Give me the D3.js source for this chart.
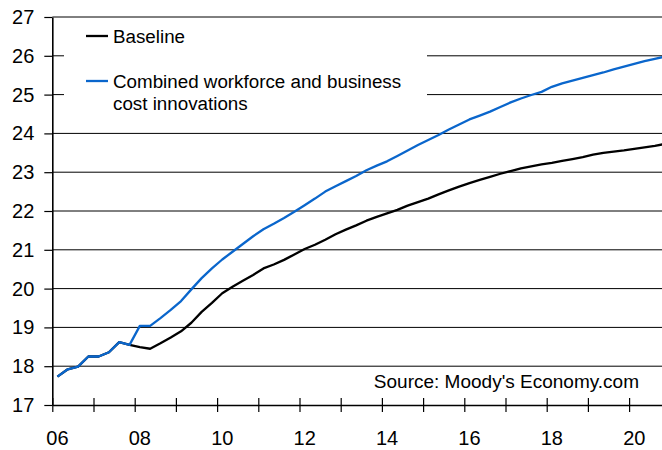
<!DOCTYPE html>
<html>
<head>
<meta charset="utf-8">
<script src="https://cdn.jsdelivr.net/npm/d3@7"></script>
<style>
  html, body { margin: 0; padding: 0; background: #fff; }
  svg { display: block; font-family: "Liberation Sans", Arial, sans-serif; }
</style>
</head>
<body>
<svg id="chart" width="662" height="450"></svg>
<script>
// Quarterly series, 2006Q1 through 2020Q4
const years = [2006, 2007, 2008, 2009, 2010, 2011, 2012, 2013, 2014, 2015, 2016, 2017, 2018, 2019, 2020];
const quarters = years.flatMap(y => [1, 2, 3, 4].map(q => y + (q - 0.5) / 4));

const baseline = [
  17.73, 17.92, 17.99, 18.25, 18.25, 18.36, 18.62, 18.55,
  18.49, 18.45, 18.59, 18.74, 18.90, 19.12, 19.40, 19.63,
  19.88, 20.05, 20.20, 20.35, 20.52, 20.62, 20.74, 20.88,
  21.02, 21.13, 21.26, 21.40, 21.52, 21.63, 21.75, 21.85,
  21.94, 22.03, 22.14, 22.23, 22.32, 22.43, 22.53, 22.63,
  22.72, 22.80, 22.88, 22.96, 23.03, 23.10, 23.15, 23.20,
  23.24, 23.29, 23.34, 23.39, 23.45, 23.50, 23.53, 23.56,
  23.60, 23.64, 23.68, 23.73
];

const combined = [
  17.73, 17.92, 17.99, 18.25, 18.25, 18.36, 18.62, 18.55,
  19.04, 19.04, 19.24, 19.45, 19.68, 19.98, 20.27, 20.52,
  20.75, 20.95, 21.15, 21.35, 21.53, 21.67, 21.82, 21.98,
  22.15, 22.32, 22.50, 22.64, 22.77, 22.90, 23.05, 23.17,
  23.28, 23.42, 23.56, 23.70, 23.83, 23.96, 24.10, 24.23,
  24.36, 24.46, 24.56, 24.68, 24.80, 24.90, 24.99, 25.07,
  25.20, 25.29, 25.36, 25.43, 25.50, 25.57, 25.65, 25.72,
  25.79, 25.86, 25.92, 25.98
];

const yTicks = [17, 18, 19, 20, 21, 22, 23, 24, 25, 26, 27];
const xLabelYears = [2006, 2008, 2010, 2012, 2014, 2016, 2018, 2020];
const xLabels = ["06", "08", "10", "12", "14", "16", "18", "20"];

const seriesNames = ["Baseline", "Combined workforce and business", "cost innovations"];
const sourceText = "Source: Moody's Economy.com";

const svg = d3.select("#chart");
const W = 662;
const plotLeft = 52.3, plotTop = 17, plotBottom = 405;

const x = d3.scaleLinear().domain([2006, 2021]).range([plotLeft, plotLeft + 15 * 41.2]);
const y = d3.scaleLinear().domain([17, 27]).range([plotBottom, plotTop]);

// Horizontal gridlines
svg.append("g")
  .selectAll("line")
  .data(yTicks.filter(v => v > 17))
  .join("line")
  .attr("x1", plotLeft).attr("x2", W)
  .attr("y1", d => y(d)).attr("y2", d => y(d))
  .attr("stroke", "#000").attr("stroke-width", 1);

// Legend panel sits over the gridlines
svg.append("rect")
  .attr("x", 64).attr("y", 26).attr("width", 363).attr("height", 96)
  .attr("fill", "#fff");

// Y axis
const yAxis = svg.append("g")
  .attr("transform", `translate(${plotLeft},0)`)
  .call(d3.axisLeft(y).tickValues(yTicks).tickSize(8).tickSizeOuter(0).tickPadding(10).tickFormat(d3.format("d")));
yAxis.select(".domain").attr("stroke", "#000").attr("stroke-width", 1.6);
yAxis.selectAll(".tick line").attr("stroke", "#000").attr("stroke-width", 1.2);
yAxis.selectAll(".tick text")
  .attr("font-size", 20).attr("fill", "#000")
  .attr("font-family", "'Liberation Sans', Arial, sans-serif");

// X axis: ticks cross the axis line at each year boundary
const xTickYears = d3.range(2006, 2022);
const xAxisDown = svg.append("g")
  .attr("transform", `translate(0,${plotBottom})`)
  .call(d3.axisBottom(x).tickValues(xTickYears).tickSize(7).tickSizeOuter(0).tickFormat(""));
xAxisDown.select(".domain").attr("stroke", "#000").attr("stroke-width", 1.6);
xAxisDown.selectAll(".tick line").attr("stroke", "#000").attr("stroke-width", 1.2);
const xAxisUp = svg.append("g")
  .attr("transform", `translate(0,${plotBottom})`)
  .call(d3.axisTop(x).tickValues(xTickYears).tickSize(7).tickSizeOuter(0).tickFormat(""));
xAxisUp.select(".domain").remove();
xAxisUp.selectAll(".tick line").attr("stroke", "#000").attr("stroke-width", 1.2);

// Year labels centred on each labelled year's first quarter
svg.append("g")
  .selectAll("text")
  .data(xLabelYears)
  .join("text")
  .attr("x", d => x(d + 0.125))
  .attr("y", 445)
  .attr("text-anchor", "middle")
  .attr("font-size", 20)
  .attr("fill", "#000")
  .text((d, i) => xLabels[i]);

// Series lines
const line = d3.line().x((d, i) => x(quarters[i])).y(d => y(d));
svg.append("path").datum(baseline)
  .attr("d", line).attr("fill", "none")
  .attr("stroke", "#000").attr("stroke-width", 2.3).attr("stroke-linejoin", "round");
svg.append("path").datum(combined)
  .attr("d", line).attr("fill", "none")
  .attr("stroke", "#0a66cc").attr("stroke-width", 2.3).attr("stroke-linejoin", "round");

// Legend
const legend = svg.append("g");
legend.append("line").attr("x1", 86).attr("x2", 108).attr("y1", 36).attr("y2", 36)
  .attr("stroke", "#000").attr("stroke-width", 2.3);
legend.append("text").attr("x", 113).attr("y", 42.7).attr("font-size", 18.8).attr("fill", "#000")
  .text(seriesNames[0]);
legend.append("line").attr("x1", 86).attr("x2", 108).attr("y1", 81).attr("y2", 81)
  .attr("stroke", "#0a66cc").attr("stroke-width", 2.3);
legend.append("text").attr("x", 113).attr("y", 87.5).attr("font-size", 18.8).attr("fill", "#000")
  .text(seriesNames[1]);
legend.append("text").attr("x", 113).attr("y", 110).attr("font-size", 18.8).attr("fill", "#000")
  .text(seriesNames[2]);

// Source note
svg.append("text")
  .attr("x", 639).attr("y", 387.5)
  .attr("text-anchor", "end")
  .attr("font-size", 19).attr("fill", "#000")
  .text(sourceText);
</script>
</body>
</html>
